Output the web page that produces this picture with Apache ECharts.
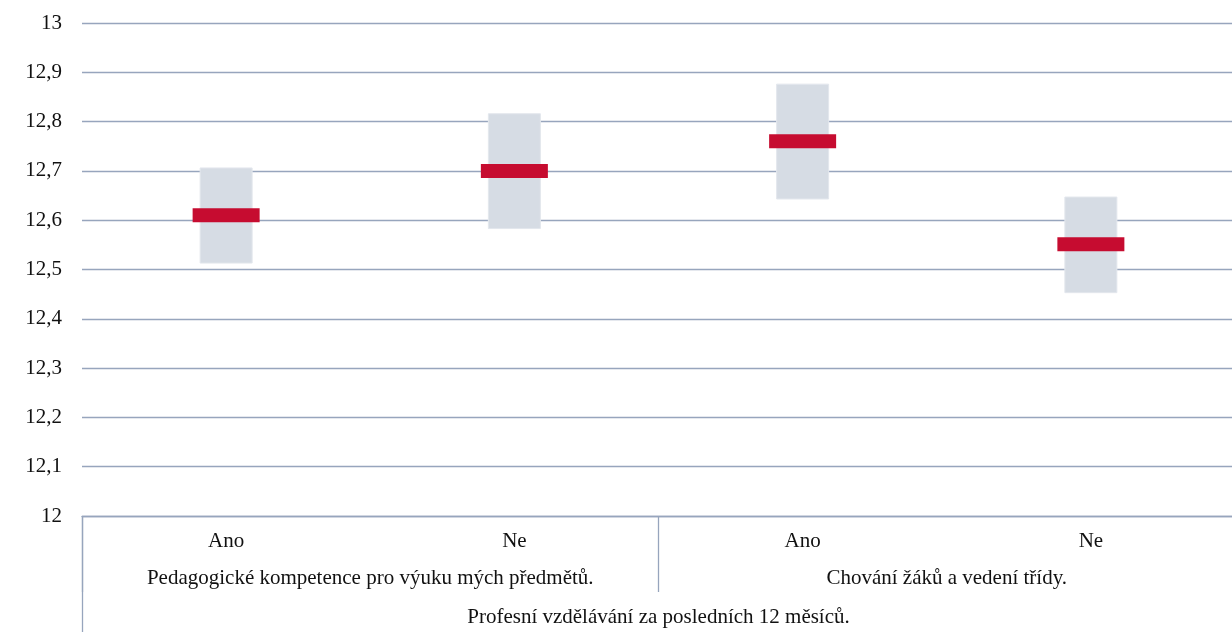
<!DOCTYPE html>
<html>
<head>
<meta charset="utf-8">
<script src="https://cdn.jsdelivr.net/npm/echarts@6/dist/echarts.min.js"></script>
<style>html,body{margin:0;padding:0;background:#fff;overflow:hidden;width:1232px;height:643px}#c{width:1235px;height:643px}</style>
</head>
<body>
<div id="c"></div>
<script>
const categories = ['Ano', 'Ne', 'Ano', 'Ne'];
const groups = ['Pedagogické kompetence pro výuku mých předmětů.', 'Chování žáků a vedení třídy.'];
const overall = ['Profesní vzdělávání za posledních 12 měsíců.'];
const lowValues = [12.512, 12.582, 12.642, 12.452];
const highValues = [12.707, 12.817, 12.877, 12.648];
const meanValues = [12.61, 12.70, 12.76, 12.551];

const rangeValues = highValues.map((h, i) => +(h - lowValues[i]).toFixed(4));
const font = 'Liberation Serif, Times New Roman, serif';
const lineColor = '#97a5bd';

const chart = echarts.init(document.getElementById('c'));
chart.setOption({
  animation: false,
  grid: { left: 82, right: 0, top: 23, bottom: 127 },
  xAxis: [
    {
      type: 'category', data: categories, position: 'bottom',
      axisLine: { show: true, lineStyle: { color: lineColor, width: 1.3 } },
      axisTick: { show: false },
      axisLabel: { interval: 0, hideOverlap: false, margin: 15, fontFamily: font, fontSize: 21, color: '#111' }
    },
    {
      type: 'category', data: groups, position: 'bottom',
      axisLine: { show: false },
      axisTick: { show: true, interval: 0, length: 76, lineStyle: { color: lineColor, width: 1.3 } },
      axisLabel: { interval: 0, hideOverlap: false, margin: 52, fontFamily: font, fontSize: 21, color: '#111' }
    },
    {
      type: 'category', data: overall, position: 'bottom',
      axisLine: { show: false },
      axisTick: { show: true, interval: 0, length: 116, lineStyle: { color: lineColor, width: 1.3 } },
      axisLabel: { interval: 0, hideOverlap: false, margin: 91, fontFamily: font, fontSize: 21, color: '#111' }
    }
  ],
  yAxis: {
    type: 'value', min: 12, max: 13, interval: 0.1,
    axisLine: { show: false }, axisTick: { show: false },
    splitLine: { lineStyle: { color: lineColor, width: 1.3 } },
    axisLabel: {
      margin: 20, fontFamily: font, fontSize: 21, color: '#111',
      formatter: v => String(Math.round(v * 10) / 10).replace('.', ',')
    }
  },
  series: [
    {
      type: 'bar', stack: 'r', xAxisIndex: 0, data: lowValues, barWidth: 53,
      itemStyle: { color: 'transparent' }, silent: true
    },
    {
      type: 'bar', stack: 'r', xAxisIndex: 0, data: rangeValues, barWidth: 53,
      itemStyle: { color: '#d6dce4', borderColor: '#e3e7ed', borderWidth: 1 }
    },
    {
      type: 'scatter', xAxisIndex: 0, data: meanValues, symbol: 'rect', symbolSize: [67, 14],
      itemStyle: { color: '#c60c30', opacity: 1 }, z: 5
    }
  ]
});
</script>
</body>
</html>
